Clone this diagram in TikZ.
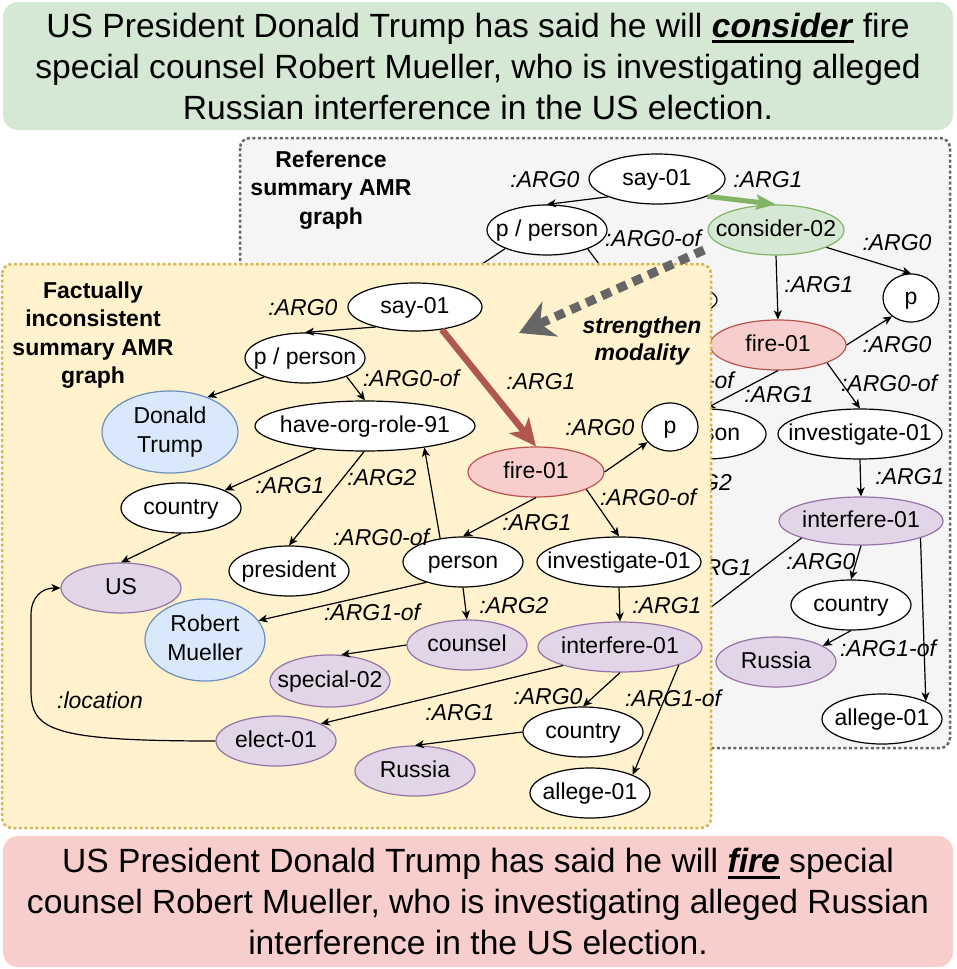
\documentclass[tikz,border=0pt]{standalone}
\usepackage{fontspec}
\setmainfont{Liberation Sans}
\usetikzlibrary{shapes.geometric,arrows.meta}
\definecolor{gfill}{HTML}{D5E8D4}
\definecolor{gline}{HTML}{82B366}
\definecolor{rfill}{HTML}{F8CECC}
\definecolor{rline}{HTML}{B85450}
\definecolor{bfill}{HTML}{DAE8FC}
\definecolor{bline}{HTML}{6C8EBF}
\definecolor{pfill}{HTML}{E1D5E7}
\definecolor{pline}{HTML}{9673A6}
\definecolor{yfill}{HTML}{FFF2CC}
\definecolor{yline}{HTML}{D6B656}
\definecolor{grfill}{HTML}{F5F5F5}
\definecolor{grline}{HTML}{666666}
\definecolor{thickred}{HTML}{B0574F}
\definecolor{smgray}{HTML}{666666}
\newcommand\zw[1]{\makebox[0pt]{#1}}
\newcommand\ulbox[1]{\setbox0\hbox{#1}\rlap{\rule[-6pt]{\wd0}{3pt}}\box0\relax}
\begin{document}
\begin{tikzpicture}[x=1pt,y=-1pt,
  ell/.style={ellipse, draw=black, fill=white, line width=1.2pt, inner sep=0pt,
    font=\fontsize{23}{29}\selectfont, minimum width=120pt, minimum height=50pt},
  nd/.style={ell, text height=17pt, text depth=5pt},
  bluen/.style={fill=bfill, draw=bline},
  purp/.style={fill=pfill, draw=pline},
  redn/.style={fill=rfill, draw=rline},
  grn/.style={fill=gfill, draw=gline},
  lbl/.style={font=\fontsize{23}{29}\selectfont\itshape, inner sep=0pt},
  ntext/.style={font=\fontsize{23}{29}\selectfont, inner sep=0pt, text height=17pt, text depth=5pt},
  ttl/.style={font=\fontsize{23}{28.5}\selectfont\bfseries, align=center, inner sep=0pt},
  edge/.style={draw, line width=1.2pt, -{Stealth[length=9pt,width=8pt,inset=2.5pt]}},
  plainedge/.style={draw, line width=1.2pt},
  greenarrow/.style={draw=gline, line width=5pt, -{Stealth[length=20pt,width=15pt,inset=4pt]}},
  redarrow/.style={draw=thickred, line width=6.5pt, -{Stealth[length=27pt,width=25pt,inset=7pt]}},
  smarrow/.style={draw=smgray, line width=9pt, dash pattern=on 10pt off 7pt, -{Stealth[length=34pt,width=38pt,inset=11pt]}},
  panel/.style={line width=2.5pt, dash pattern=on 3pt off 2.5pt, rounded corners=10pt},
  sentbox/.style={rectangle, rounded corners=15pt, minimum width=950pt, align=center,
    font=\fontsize{33.6}{41}\selectfont, inner sep=0pt}
]
\useasboundingbox (0,0) rectangle (957,969);

% ---------- top and bottom sentences ----------
\node[sentbox, fill=gfill, minimum height=128pt] (topsent) at (478,66)
  {US President Donald Trump has said he will \ulbox{\textbf{\textit{consider}}} fire\\
   special counsel Robert Mueller, who is investigating alleged\\
   Russian interference in the US election.};
\node[sentbox, fill=rfill, minimum height=131pt] (botsent) at (478,901.5)
  {US President Donald Trump has said he will \ulbox{\textbf{\textit{fire}}} special\\
   counsel Robert Mueller, who is investigating alleged Russian\\
   interference in the US election.};

% ---------- reference (back) panel ----------
\draw[panel, fill=grfill, draw=grline] (240,138) rectangle (950,748);
\node[ttl] (rtitle) at (331,190) {Reference\\summary AMR\\graph};

\node[nd, minimum width=136pt] (bsay) at (657,179) {\zw{say-01}};
\node[nd] (bpp) at (547,230) {\zw{p / person}};
\node[nd, grn, minimum width=136pt] (bcons) at (776,230) {\zw{consider-02}};
\node[nd, minimum width=56pt, minimum height=48pt] (bp) at (911,298) {\zw{p}};
\node[nd, minimum width=220pt] (bhor) at (607,300) {};
\node[nd, redn, minimum width=136pt] (bfire) at (778,345) {\zw{fire-01}};
\node[nd] (bper) at (706,434) {};
\node[ntext, anchor=west] (bperson) at (703,434) {son};
\node[nd, minimum width=164pt] (binv) at (860,434) {\zw{investigate-01}};
\node[nd, purp, minimum width=164pt, minimum height=48pt] (bif) at (861,521) {\zw{interfere-01}};
\node[nd] (bcb) at (851,605) {\zw{country}};
\node[nd, purp] (bru) at (776,662) {\zw{Russia}};
\node[nd] (bal) at (882,719) {\zw{allege-01}};
\coordinate (bdt) at (440,292);
\coordinate (bel) at (600,692);

\draw[edge] (bsay.200) -- (bpp.north);
\draw[greenarrow] (bsay.-19) -- (bcons.north);
\draw[plainedge] (bpp.204) -- (bdt);
\draw[edge] (bpp.-25) -- (bhor.north);
\draw[edge] (bcons.south) -- (bfire.north);
\draw[edge] (bcons.-19) -- (bp.north);
\draw[edge] (bfire.east) -- (bp.224);
\draw[edge] (bfire.south) -- (bper.north);
\draw[edge] (bfire.-20) -- (binv.north);
\draw[edge] (binv.south) -- (bif.north);
\draw[edge] (bif.south) -- (bcb.north);
\draw[edge] (bif.-16) -- (bal.22);
\draw[edge] (bcb.south) -- (bru.19);
\draw[plainedge] (bif.196) -- (bel);

\node[lbl] (bl1) at (545,180) {:ARG0};
\node[lbl] (bl2) at (768,180) {:ARG1};
\node[lbl] (bl3) at (653,238) {:ARG0-of};
\node[lbl] (bl4) at (897,243) {:ARG0};
\node[lbl] (bl5) at (819,285) {:ARG1};
\node[lbl] (bl6) at (897,345) {:ARG0};
\node[lbl] (bl7) at (779,395) {:ARG1};
\node[lbl] (bl8) at (889,383) {:ARG0-of};
\node[lbl] (bl9) at (910,477) {:ARG1};
\node[lbl] (bl10) at (821,562) {:ARG0};
\node[lbl] (bl11) at (888,648) {:ARG1-of};
\node[lbl, anchor=east] (bl12) at (734,380) {-of};
\node[lbl, anchor=east] (bl13) at (732,483) {G2};
\node[lbl, anchor=east] (bl14) at (752,568) {RG1};

% ---------- inconsistent (front) panel ----------
\draw[panel, fill=yfill, draw=yline] (2,264) rectangle (711,828);
\node[ttl] (ftitle) at (93,335) {Factually\\inconsistent\\summary AMR\\graph};

\node[nd, minimum width=134pt, minimum height=48pt] (say) at (415,307) {\zw{say-01}};
\node[nd] (pp) at (305,358) {\zw{p / person}};
\node[ell, bluen, minimum width=136pt, minimum height=72pt] (dt) at (170,432)
  {\zw{\begin{tabular}{@{}c@{}}Donald\\Trump\end{tabular}}};
\node[nd, minimum width=220pt] (hor) at (365,426) {\zw{have-org-role-91}};
\node[nd] (cl) at (181,508) {\zw{country}};
\node[nd, purp] (us) at (121,588) {\zw{US}};
\node[nd] (pres) at (289,571) {\zw{president}};
\node[nd] (per) at (463,562) {\zw{person}};
\node[nd, minimum width=164pt] (inv) at (619,562) {\zw{investigate-01}};
\node[nd, purp] (co) at (467,645) {\zw{counsel}};
\node[nd, purp, minimum width=164pt] (if) at (620,647) {\zw{interfere-01}};
\node[nd, redn, minimum width=136pt] (fire) at (536,472) {\zw{fire-01}};
\node[nd, minimum width=56pt, minimum height=48pt] (pf) at (670,427) {\zw{p}};
\node[ell, bluen, minimum width=120pt, minimum height=72pt] (rm) at (205,640)
  {\zw{\begin{tabular}{@{}c@{}}Robert\\Mueller\end{tabular}}};
\node[nd, purp, minimum height=52pt] (sp) at (330,681) {\zw{special-02}};
\node[nd, purp] (el) at (276,741) {\zw{elect-01}};
\node[nd, purp] (ru) at (415,771) {\zw{Russia}};
\node[nd] (cb) at (583,732) {\zw{country}};
\node[nd] (al) at (590,793) {\zw{allege-01}};

\draw[edge] (say.207) -- (pp.north);
\draw[redarrow] (say.-40) -- (fire.north);
\draw[edge] (pp.205) -- (dt.43);
\draw[edge] (pp.-24) -- (hor.north);
\draw[edge] (hor.205) -- (cl.22);
\draw[edge] (hor.268) -- (pres.north);
\draw[edge] (per.134) -- (hor.-20);
\draw[edge] (cl.south) -- (us.north);
\draw[edge] (fire.east) -- (pf.214);
\draw[edge] (fire.south) -- (per.north);
\draw[edge] (fire.-19) -- (inv.north);
\draw[edge] (per.209) -- (rm.20);
\draw[edge] (per.south) -- (co.north);
\draw[edge] (inv.south) -- (if.north);
\draw[edge] (co.west) -- (sp.67);
\draw[edge] (if.198) -- (el.21);
\draw[edge] (if.south) -- (cb.north);
\draw[edge] (if.-17) -- (al.23);
\draw[edge] (cb.west) -- (ru.north);
\draw[edge] (el.west) .. controls (50,741) and (31,730) .. (31,690)
  -- (31,615) .. controls (31,597) and (42,588) .. (us.west);

\node[lbl] (l1) at (303,308) {:ARG0};
\node[lbl] (l2) at (411,378) {:ARG0-of};
\node[lbl] (l3) at (541,382) {:ARG1};
\node[lbl] (l4) at (290,486) {:ARG1};
\node[lbl] (l5) at (382,478) {:ARG2};
\node[lbl] (l6) at (381,537) {:ARG0-of};
\node[lbl] (l7) at (372,612) {:ARG1-of};
\node[lbl] (l8) at (600,428) {:ARG0};
\node[lbl] (l9) at (648,497) {:ARG0-of};
\node[lbl] (l10) at (537,523) {:ARG1};
\node[lbl] (l11) at (514,606) {:ARG2};
\node[lbl] (l12) at (667,606) {:ARG1};
\node[lbl] (l13) at (548,697) {:ARG0};
\node[lbl] (l14) at (673,698) {:ARG1-of};
\node[lbl] (l15) at (460,713) {:ARG1};
\node[lbl] (l16) at (100,700) {:location};

% ---------- strengthen modality ----------
\node[ttl, font=\fontsize{23}{27}\selectfont\bfseries\itshape] (sm) at (642,341) {strengthen\\modality};
\coordinate (smA) at (704,250);
\coordinate (smB) at (519,333);
\draw[smarrow] (smA) -- (smB);
\end{tikzpicture}
\end{document}
